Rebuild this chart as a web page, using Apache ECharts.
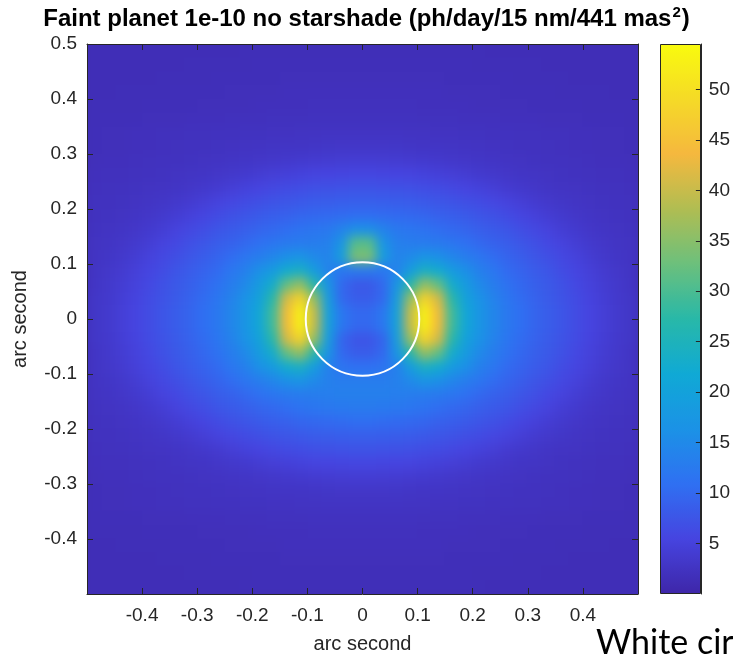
<!DOCTYPE html>
<html>
<head>
<meta charset="utf-8">
<title>Faint planet 1e-10 no starshade</title>
<script src="https://cdn.jsdelivr.net/npm/echarts@6/dist/echarts.min.js"></script>
<style>
  html, body { margin: 0; padding: 0; background: #fff; }
  #wrap { position: relative; width: 733px; height: 662px; }
  /* the flux field sits under the axes, softened like matlab's interpolated shading */
  #field-clip { position: absolute; left: 87px; top: 44px; width: 551px; height: 550px; overflow: hidden; background: #402eb5; }
  #field { position: absolute; left: -20px; top: -20px; width: 591px; height: 590px; filter: blur(5.5px); }
  #chart { position: absolute; left: 0; top: 0; width: 733px; height: 662px; }
</style>
</head>
<body>
<div id="wrap">
  <div id="field-clip"><div id="field"></div></div>
  <div id="chart"></div>
</div>
<script>
// cell centres in arc seconds (left to right / bottom to top)
const xCells = ['-0.4875','-0.4625','-0.4375','-0.4125','-0.3875','-0.3625','-0.3375','-0.3125','-0.2875','-0.2625',
  '-0.2375','-0.2125','-0.1875','-0.1625','-0.1375','-0.1125','-0.0875','-0.0625','-0.0375','-0.0125',
  '0.0125','0.0375','0.0625','0.0875','0.1125','0.1375','0.1625','0.1875','0.2125','0.2375',
  '0.2625','0.2875','0.3125','0.3375','0.3625','0.3875','0.4125','0.4375','0.4625','0.4875'];
const yCells = xCells.slice();

// ph/day per cell, rows from top (y = 0.4875) down to bottom (y = -0.4875)
const fluxRows = [
  [1.5,1.5,1.5,1.5,1.5,1.5,1.5,1.5,1.5,1.5,1.5,1.6,1.6,1.6,1.6,1.6,1.6,1.6,1.6,1.6,1.6,1.6,1.6,1.6,1.6,1.6,1.6,1.6,1.6,1.5,1.5,1.5,1.5,1.5,1.5,1.5,1.5,1.5,1.5,1.5],
  [1.5,1.5,1.5,1.5,1.5,1.5,1.5,1.6,1.6,1.6,1.6,1.6,1.7,1.7,1.7,1.7,1.7,1.7,1.7,1.7,1.7,1.7,1.7,1.7,1.7,1.7,1.7,1.7,1.6,1.6,1.6,1.6,1.6,1.5,1.5,1.5,1.5,1.5,1.5,1.5],
  [1.5,1.5,1.5,1.5,1.5,1.6,1.6,1.6,1.6,1.7,1.7,1.7,1.7,1.7,1.8,1.8,1.8,1.8,1.8,1.8,1.8,1.8,1.8,1.8,1.8,1.8,1.7,1.7,1.7,1.7,1.7,1.6,1.6,1.6,1.6,1.5,1.5,1.5,1.5,1.5],
  [1.5,1.5,1.6,1.6,1.6,1.6,1.7,1.7,1.7,1.7,1.8,1.8,1.8,1.8,1.9,1.9,1.9,1.9,1.9,1.9,1.9,1.9,1.9,1.9,1.9,1.9,1.8,1.8,1.8,1.8,1.7,1.7,1.7,1.7,1.6,1.6,1.6,1.6,1.5,1.5],
  [1.6,1.6,1.6,1.6,1.7,1.7,1.7,1.7,1.8,1.8,1.8,1.8,1.9,1.9,1.9,1.9,2.0,2.0,2.0,2.0,2.0,2.0,2.0,2.0,1.9,1.9,1.9,1.9,1.8,1.8,1.8,1.8,1.7,1.7,1.7,1.7,1.6,1.6,1.6,1.6],
  [1.6,1.7,1.7,1.7,1.8,1.8,1.8,1.9,1.9,1.9,2.0,2.0,2.0,2.1,2.1,2.1,2.2,2.2,2.2,2.2,2.2,2.2,2.2,2.2,2.1,2.1,2.1,2.0,2.0,2.0,1.9,1.9,1.9,1.8,1.8,1.8,1.7,1.7,1.7,1.6],
  [1.7,1.8,1.8,1.9,1.9,2.0,2.0,2.1,2.1,2.2,2.2,2.3,2.3,2.4,2.4,2.5,2.5,2.6,2.6,2.6,2.6,2.6,2.6,2.5,2.5,2.4,2.4,2.3,2.3,2.2,2.2,2.1,2.1,2.0,2.0,1.9,1.9,1.8,1.8,1.7],
  [1.7,1.8,1.8,1.9,1.9,2.0,2.1,2.2,2.2,2.3,2.4,2.5,2.6,2.7,2.8,2.8,2.9,3.0,3.1,3.1,3.1,3.1,3.0,2.9,2.8,2.8,2.7,2.6,2.5,2.4,2.3,2.2,2.2,2.1,2.0,1.9,1.9,1.8,1.8,1.7],
  [1.8,1.9,1.9,2.0,2.1,2.2,2.2,2.3,2.5,2.6,2.8,2.9,3.1,3.3,3.5,3.7,3.9,4.0,4.1,4.2,4.2,4.1,4.0,3.9,3.7,3.5,3.3,3.1,2.9,2.8,2.6,2.5,2.3,2.2,2.2,2.1,2.0,1.9,1.9,1.8],
  [1.9,2.0,2.0,2.1,2.2,2.3,2.5,2.7,2.8,3.1,3.4,3.7,4.1,4.5,4.8,5.1,5.4,5.5,5.6,5.7,5.7,5.6,5.5,5.4,5.1,4.8,4.5,4.1,3.7,3.4,3.1,2.8,2.7,2.5,2.3,2.2,2.1,2.0,2.0,1.9],
  [2.0,2.1,2.2,2.3,2.5,2.6,2.8,3.1,3.5,3.9,4.5,5.0,5.5,5.9,6.3,6.6,6.9,7.1,7.2,7.3,7.3,7.2,7.1,6.9,6.6,6.3,5.9,5.5,5.0,4.5,3.9,3.5,3.1,2.8,2.6,2.5,2.3,2.2,2.1,2.0],
  [2.1,2.2,2.3,2.5,2.7,3.0,3.4,3.9,4.5,5.2,5.8,6.3,6.8,7.3,7.7,8.1,8.4,8.6,8.7,8.8,8.8,8.7,8.6,8.4,8.1,7.7,7.3,6.8,6.3,5.8,5.2,4.5,3.9,3.4,3.0,2.7,2.5,2.3,2.2,2.1],
  [2.2,2.3,2.5,2.8,3.1,3.6,4.2,4.9,5.6,6.3,7.0,7.5,8.2,8.7,9.1,9.6,9.9,10.2,10.4,10.6,10.6,10.4,10.2,9.9,9.6,9.1,8.7,8.2,7.5,7.0,6.3,5.6,4.9,4.2,3.6,3.1,2.8,2.5,2.3,2.2],
  [2.3,2.5,2.8,3.1,3.7,4.3,5.2,5.9,6.7,7.5,8.2,8.8,9.5,10,10.7,11.4,11.9,12.2,14,16,16,14,12.2,11.9,11.4,10.7,10,9.5,8.8,8.2,7.5,6.7,5.9,5.2,4.3,3.7,3.1,2.8,2.5,2.3],
  [2.5,2.7,3.1,3.6,4.3,5.2,6,6.9,7.7,8.5,9.2,10,11,11.9,12.5,12.8,13,13.5,17,31,31,17,13.5,13,12.8,12.5,11.9,11,10,9.2,8.5,7.7,6.9,6,5.2,4.3,3.6,3.1,2.7,2.5],
  [2.6,2.9,3.4,4.1,5,5.9,6.8,7.7,8.6,9.4,10.5,11.8,13,14.5,16,17,15,14,19,34,34,19,14,15,17,16,14.5,13,11.8,10.5,9.4,8.6,7.7,6.8,5.9,5,4.1,3.4,2.9,2.6],
  [2.7,3.2,3.8,4.7,5.6,6.5,7.5,8.4,9.3,10.3,12,13.5,16,18.5,22.5,24,19,14,12,12.5,12.5,12,14,19,24,22.5,18.5,16,13.5,12,10.3,9.3,8.4,7.5,6.5,5.6,4.7,3.8,3.2,2.7],
  [2.8,3.4,4.1,5,6,7,8,8.9,9.9,11.2,13,15,18.5,23,32,36,27,17,10,8,8,10,17,27,36,32,23,18.5,15,13,11.2,9.9,8.9,8,7,6,5,4.1,3.4,2.8],
  [3.0,3.5,4.4,5.3,6.3,7.3,8.3,9.3,10.4,11.9,14,16.5,20,27,41,48,36,19,10,8.5,8.5,10,19,36,48,41,27,20,16.5,14,11.9,10.4,9.3,8.3,7.3,6.3,5.3,4.4,3.5,3.0],
  [3.0,3.6,4.5,5.5,6.5,7.5,8.5,9.5,10.8,12.2,14.5,17,21,29,44,53,40,20,12,10,10,12,20,40,53,44,29,21,17,14.5,12.2,10.8,9.5,8.5,7.5,6.5,5.5,4.5,3.6,3.0],
  [3.0,3.6,4.5,5.5,6.5,7.5,8.5,9.5,10.8,12.2,14.5,17,21,29,44,53,40,20,12,10,10,12,20,40,53,44,29,21,17,14.5,12.2,10.8,9.5,8.5,7.5,6.5,5.5,4.5,3.6,3.0],
  [3.0,3.5,4.4,5.3,6.3,7.3,8.3,9.3,10.4,11.9,14,16.5,20,27,41,48,36,19,9.5,7.5,7.5,9.5,19,36,48,41,27,20,16.5,14,11.9,10.4,9.3,8.3,7.3,6.3,5.3,4.4,3.5,3.0],
  [2.8,3.4,4.1,5,6,7,8,8.9,9.9,11.2,13,15,18.5,23,32,36,27,17,10,8.5,8.5,10,17,27,36,32,23,18.5,15,13,11.2,9.9,8.9,8,7,6,5,4.1,3.4,2.8],
  [2.7,3.2,3.8,4.7,5.6,6.5,7.5,8.4,9.3,10.3,12,13.5,16,18.5,22.5,24,19,13.5,11.5,11,11,11.5,13.5,19,24,22.5,18.5,16,13.5,12,10.3,9.3,8.4,7.5,6.5,5.6,4.7,3.8,3.2,2.7],
  [2.6,2.9,3.4,4.1,5,5.9,6.8,7.7,8.6,9.4,10.5,11.8,13,14.5,16,17,15,13.5,13,13,13,13,13.5,15,17,16,14.5,13,11.8,10.5,9.4,8.6,7.7,6.8,5.9,5,4.1,3.4,2.9,2.6],
  [2.5,2.7,3.1,3.6,4.3,5.2,6,6.9,7.7,8.5,9.2,10,11,11.9,12.5,12.8,13,13.3,13.5,13.5,13.5,13.5,13.3,13,12.8,12.5,11.9,11,10,9.2,8.5,7.7,6.9,6,5.2,4.3,3.6,3.1,2.7,2.5],
  [2.3,2.5,2.8,3.1,3.7,4.3,5.2,5.9,6.7,7.5,8.2,8.8,9.5,10,10.7,11.4,11.9,12.2,12.4,12.5,12.5,12.4,12.2,11.9,11.4,10.7,10,9.5,8.8,8.2,7.5,6.7,5.9,5.2,4.3,3.7,3.1,2.8,2.5,2.3],
  [2.2,2.3,2.5,2.8,3.1,3.6,4.2,4.9,5.6,6.3,7.0,7.5,8.2,8.7,9.1,9.6,9.9,10.2,10.4,10.6,10.6,10.4,10.2,9.9,9.6,9.1,8.7,8.2,7.5,7.0,6.3,5.6,4.9,4.2,3.6,3.1,2.8,2.5,2.3,2.2],
  [2.1,2.2,2.3,2.5,2.7,3.0,3.4,3.9,4.5,5.2,5.8,6.3,6.8,7.3,7.7,8.1,8.4,8.6,8.7,8.8,8.8,8.7,8.6,8.4,8.1,7.7,7.3,6.8,6.3,5.8,5.2,4.5,3.9,3.4,3.0,2.7,2.5,2.3,2.2,2.1],
  [2.0,2.1,2.2,2.3,2.5,2.6,2.8,3.1,3.5,3.9,4.5,5.0,5.5,5.9,6.3,6.6,6.9,7.1,7.2,7.3,7.3,7.2,7.1,6.9,6.6,6.3,5.9,5.5,5.0,4.5,3.9,3.5,3.1,2.8,2.6,2.5,2.3,2.2,2.1,2.0],
  [1.9,2.0,2.0,2.1,2.2,2.3,2.5,2.7,2.8,3.1,3.4,3.7,4.1,4.5,4.8,5.1,5.4,5.5,5.6,5.7,5.7,5.6,5.5,5.4,5.1,4.8,4.5,4.1,3.7,3.4,3.1,2.8,2.7,2.5,2.3,2.2,2.1,2.0,2.0,1.9],
  [1.8,1.9,1.9,2.0,2.1,2.2,2.2,2.3,2.5,2.6,2.8,2.9,3.1,3.3,3.5,3.7,3.9,4.0,4.1,4.2,4.2,4.1,4.0,3.9,3.7,3.5,3.3,3.1,2.9,2.8,2.6,2.5,2.3,2.2,2.2,2.1,2.0,1.9,1.9,1.8],
  [1.7,1.8,1.8,1.9,1.9,2.0,2.1,2.2,2.2,2.3,2.4,2.5,2.6,2.7,2.8,2.8,2.9,3.0,3.1,3.1,3.1,3.1,3.0,2.9,2.8,2.8,2.7,2.6,2.5,2.4,2.3,2.2,2.2,2.1,2.0,1.9,1.9,1.8,1.8,1.7],
  [1.7,1.8,1.8,1.9,1.9,2.0,2.0,2.1,2.1,2.2,2.2,2.3,2.3,2.4,2.4,2.5,2.5,2.6,2.6,2.6,2.6,2.6,2.6,2.5,2.5,2.4,2.4,2.3,2.3,2.2,2.2,2.1,2.1,2.0,2.0,1.9,1.9,1.8,1.8,1.7],
  [1.6,1.7,1.7,1.7,1.8,1.8,1.8,1.9,1.9,1.9,2.0,2.0,2.0,2.1,2.1,2.1,2.2,2.2,2.2,2.2,2.2,2.2,2.2,2.2,2.1,2.1,2.1,2.0,2.0,2.0,1.9,1.9,1.9,1.8,1.8,1.8,1.7,1.7,1.7,1.6],
  [1.6,1.6,1.6,1.6,1.7,1.7,1.7,1.7,1.8,1.8,1.8,1.8,1.9,1.9,1.9,1.9,2.0,2.0,2.0,2.0,2.0,2.0,2.0,2.0,1.9,1.9,1.9,1.9,1.8,1.8,1.8,1.8,1.7,1.7,1.7,1.7,1.6,1.6,1.6,1.6],
  [1.5,1.5,1.6,1.6,1.6,1.6,1.7,1.7,1.7,1.7,1.8,1.8,1.8,1.8,1.9,1.9,1.9,1.9,1.9,1.9,1.9,1.9,1.9,1.9,1.9,1.9,1.8,1.8,1.8,1.8,1.7,1.7,1.7,1.7,1.6,1.6,1.6,1.6,1.5,1.5],
  [1.5,1.5,1.5,1.5,1.5,1.6,1.6,1.6,1.6,1.7,1.7,1.7,1.7,1.7,1.8,1.8,1.8,1.8,1.8,1.8,1.8,1.8,1.8,1.8,1.8,1.8,1.7,1.7,1.7,1.7,1.7,1.6,1.6,1.6,1.6,1.5,1.5,1.5,1.5,1.5],
  [1.5,1.5,1.5,1.5,1.5,1.5,1.5,1.6,1.6,1.6,1.6,1.6,1.7,1.7,1.7,1.7,1.7,1.7,1.7,1.7,1.7,1.7,1.7,1.7,1.7,1.7,1.7,1.7,1.6,1.6,1.6,1.6,1.6,1.5,1.5,1.5,1.5,1.5,1.5,1.5],
  [1.5,1.5,1.5,1.5,1.5,1.5,1.5,1.5,1.5,1.5,1.5,1.6,1.6,1.6,1.6,1.6,1.6,1.6,1.6,1.6,1.6,1.6,1.6,1.6,1.6,1.6,1.6,1.6,1.6,1.5,1.5,1.5,1.5,1.5,1.5,1.5,1.5,1.5,1.5,1.5]
];

// white ring: centre x, centre y, radius (arc seconds)
const ring = [[0, 0, 0.103]];

// colour bar range and parula stops
const barMin = 0;
const barMax = 54.5;
const parula = ['#3e26a8', '#4644e0', '#2f70f2', '#1b92e6', '#10a9d5', '#28b8a8',
  '#6cc07c', '#b0bd52', '#f5b83e', '#f5da27', '#f9fb0e'];

const AX = '#262626';
const FONT = 'Liberation Sans, Arial, sans-serif';
const plotBox = { left: 87, top: 44, width: 551, height: 550 };
const barBox = { left: 660, top: 44, width: 41, height: 550 };

const cells = [];
fluxRows.forEach((row, r) => {
  row.forEach((v, c) => cells.push([c, yCells.length - 1 - r, v]));
});

// ---- field layer (heatmap only) ----
const field = echarts.init(document.getElementById('field'));
field.setOption({
  animation: false,
  backgroundColor: '#402eb5',
  grid: { left: 20, top: 20, width: plotBox.width, height: plotBox.height },
  xAxis: { type: 'category', data: xCells, show: false },
  yAxis: { type: 'category', data: yCells, show: false },
  visualMap: {
    type: 'continuous', show: false, min: barMin, max: barMax,
    inRange: { color: parula }
  },
  series: [{
    type: 'heatmap',
    data: cells,
    itemStyle: { borderWidth: 0 },
    emphasis: { disabled: true }
  }]
});

// ---- axes, ring, colour bar, text ----
const line = { show: true, onZero: false, lineStyle: { color: AX, width: 1 } };
const tick = { show: true, inside: true, length: 6, lineStyle: { color: AX, width: 1 } };
const label = { color: AX, fontSize: 19, fontFamily: FONT };

function frameAxis(pos, extra) {
  return Object.assign({
    gridIndex: 0, type: 'value', min: -0.5, max: 0.5, interval: 0.1,
    position: pos, z: 5, axisLine: line, axisTick: tick,
    axisLabel: { show: false }, splitLine: { show: false }
  }, extra || {});
}

const chart = echarts.init(document.getElementById('chart'));
chart.setOption({
  animation: false,
  backgroundColor: 'transparent',
  title: {
    text: '{t|Faint planet 1e-10 no starshade (ph/day/15 nm/441 mas}{s|2}{t|)}',
    left: 'center',
    top: 5,
    padding: 0,
    textStyle: {
      rich: {
        t: { fontSize: 24, fontWeight: 'bold', fontFamily: FONT, color: '#000', lineHeight: 28 },
        s: { fontSize: 15, fontWeight: 'bold', fontFamily: FONT, color: '#000', verticalAlign: 'top', lineHeight: 28, padding: [0, 1, 12, 1] }
      }
    }
  },
  grid: [
    Object.assign({}, plotBox),
    Object.assign({}, barBox)
  ],
  xAxis: [
    frameAxis('bottom', {
      axisLabel: { show: true, margin: 12, showMinLabel: false, showMaxLabel: false, ...label },
      name: 'arc second', nameLocation: 'middle', nameGap: 40,
      nameTextStyle: { color: AX, fontSize: 20, fontFamily: FONT }
    }),
    frameAxis('top'),
    { gridIndex: 1, type: 'value', show: false, min: 0, max: 1 }
  ],
  yAxis: [
    frameAxis('left', {
      axisLabel: { show: true, margin: 10, showMinLabel: false, showMaxLabel: true, ...label },
      name: 'arc second', nameLocation: 'middle', nameGap: 57, nameRotate: 90,
      nameTextStyle: { color: AX, fontSize: 20, fontFamily: FONT }
    }),
    frameAxis('right'),
    {
      gridIndex: 1, type: 'value', min: barMin, max: barMax, interval: 5, position: 'right', z: 6,
      axisLine: line, axisTick: { show: true, inside: true, length: 5, lineStyle: { color: AX } },
      axisLabel: { show: true, margin: 8, showMinLabel: false, showMaxLabel: false, ...label },
      splitLine: { show: false }
    }
  ],
  visualMap: {
    type: 'continuous',
    seriesIndex: 0,
    dimension: 2,
    min: barMin,
    max: barMax,
    calculable: false,
    left: barBox.left,
    top: barBox.top,
    itemWidth: barBox.width,
    itemHeight: barBox.height,
    padding: 0,
    inRange: { color: parula }
  },
  graphic: [
    {
      type: 'rect', z: 100, silent: true,
      shape: { x: barBox.left + 0.5, y: barBox.top + 0.5, width: barBox.width - 1, height: barBox.height - 1 },
      style: { fill: 'none', stroke: AX, lineWidth: 1 }
    },
    {
      type: 'text', z: 100, silent: true, left: 596, top: 626,
      style: { text: 'White circle', fontSize: 34, fontFamily: 'Lato, Open Sans, sans-serif', fill: '#000' }
    }
  ],
  series: [
    {
      type: 'custom',
      xAxisIndex: 0,
      yAxisIndex: 0,
      data: ring,
      silent: true,
      z: 3,
      renderItem: function (params, api) {
        const c = api.coord([api.value(0), api.value(1)]);
        const r = api.size([api.value(2), 0])[0];
        return {
          type: 'circle',
          shape: { cx: c[0], cy: c[1], r: r },
          style: { fill: 'none', stroke: '#fff', lineWidth: 2 }
        };
      }
    }
  ]
});
</script>
</body>
</html>
